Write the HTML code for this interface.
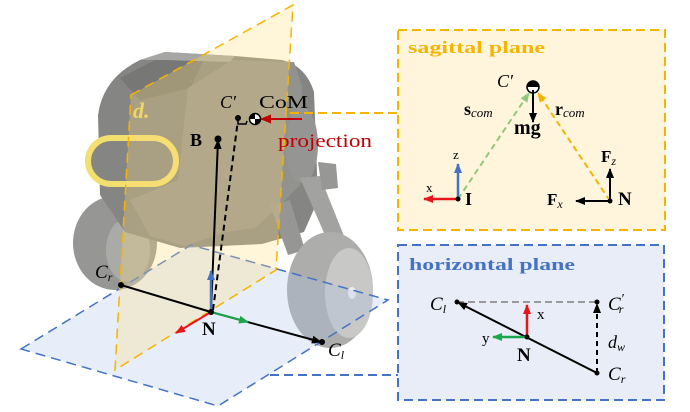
<!DOCTYPE html>
<html><head><meta charset="utf-8"><style>
html,body{margin:0;padding:0;background:#fff;}
svg{display:block;}
text{font-family:"Liberation Serif",serif;}
</style></head><body>
<svg width="690" height="412" viewBox="0 0 690 412" xmlns="http://www.w3.org/2000/svg">
<defs>
<marker id="mk" markerWidth="10" markerHeight="8" refX="9" refY="4" orient="auto" markerUnits="userSpaceOnUse"><path d="M0,0 L10,4 L0,8 z" fill="#000"/></marker>
<marker id="mr" markerWidth="10" markerHeight="8" refX="9" refY="4" orient="auto" markerUnits="userSpaceOnUse"><path d="M0,0 L10,4 L0,8 z" fill="#e8141c"/></marker>
<marker id="mdr" markerWidth="11" markerHeight="9" refX="10" refY="4.5" orient="auto" markerUnits="userSpaceOnUse"><path d="M0,0 L11,4.5 L0,9 z" fill="#c00000"/></marker>
<marker id="mg" markerWidth="10" markerHeight="8" refX="9" refY="4" orient="auto" markerUnits="userSpaceOnUse"><path d="M0,0 L10,4 L0,8 z" fill="#1aa64a"/></marker>
<marker id="mb" markerWidth="10" markerHeight="8" refX="9" refY="4" orient="auto" markerUnits="userSpaceOnUse"><path d="M0,0 L10,4 L0,8 z" fill="#4472c4"/></marker>
<marker id="mlg" markerWidth="10" markerHeight="8" refX="9" refY="4" orient="auto" markerUnits="userSpaceOnUse"><path d="M0,0 L10,4 L0,8 z" fill="#8fc97a"/></marker>
<marker id="mo" markerWidth="10" markerHeight="8" refX="9" refY="4" orient="auto" markerUnits="userSpaceOnUse"><path d="M0,0 L10,4 L0,8 z" fill="#f5b400"/></marker>
</defs>

<!-- Robot approximation -->
<g>
  <!-- left wheel -->
  <ellipse cx="115" cy="243" rx="42" ry="47" fill="#969694"/>
  <ellipse cx="128" cy="250" rx="22" ry="32" fill="#aaaaa7"/>
  <!-- cage -->
  <path d="M98,115 Q103,78 140,60 L165,52 L235,56 L282,60 Q306,66 314,92 L318,200 L304,232 L262,244 L180,248 L125,232 L100,195 Z" fill="#858583"/>
  <path d="M120,78 L165,55 L205,58 L190,88 L140,100 Z" fill="#777775"/>
  <path d="M140,60 L165,52 L235,56 L230,62 L165,60 Z" fill="#a6a6a4"/>
  <!-- side plate -->
  <path d="M188,88 L232,60 L294,62 L302,86 L300,185 L280,205 L255,228 L225,232 L185,246 L150,236 L130,200 L178,180 Z" fill="#92928e"/>
  <!-- motor disk -->
  <ellipse cx="302" cy="145" rx="16" ry="38" fill="#959593"/>
  <!-- leg -->
  <path d="M300,178 L320,176 L344,236 L328,242 Z" fill="#a2a2a0"/>
  <path d="M318,162 L336,164 L338,188 L322,190 Z" fill="#979795"/>
  <path d="M270,205 L290,200 L305,250 L288,255 Z" fill="#969694"/>
  <!-- right wheel -->
  <ellipse cx="330" cy="290" rx="43" ry="58" fill="#adadab"/>
  <ellipse cx="349" cy="293" rx="24" ry="45" fill="#c8c8c6"/>
  <ellipse cx="352" cy="293" rx="4" ry="6" fill="#eeeeee"/>
  <!-- yellow ring -->
  <rect x="88" y="138" width="88" height="46" rx="23" ry="23" fill="#858583" stroke="#f2df6e" stroke-width="6"/>
  <!-- logo -->
  <text x="133" y="118" font-size="22" font-weight="bold" fill="#e9d35a" font-style="italic">d.</text>
</g>

<!-- horizontal plane -->
<polygon points="21,349 191,245 388,300 218,406" fill="rgba(170,195,235,0.28)" stroke="#4472c4" stroke-width="1.5" stroke-dasharray="10,6"/>
<!-- sagittal plane -->
<polygon points="131,95 293,5 276,270 115,370" fill="rgba(255,222,130,0.3)" stroke="#f5b400" stroke-width="1.5" stroke-dasharray="10,6"/>

<!-- connectors -->
<line x1="290" y1="113" x2="398" y2="113" stroke="#f5b400" stroke-width="2" stroke-dasharray="9,5"/>
<line x1="270" y1="375" x2="398" y2="375" stroke="#4472c4" stroke-width="2" stroke-dasharray="9,5"/>

<!-- left diagram vectors -->
<line x1="121" y1="285" x2="211" y2="312" stroke="#000" stroke-width="2"/>
<line x1="211" y1="312" x2="321" y2="342" stroke="#000" stroke-width="2" marker-end="url(#mk)"/>
<line x1="211" y1="312" x2="218" y2="140" stroke="#000" stroke-width="2" marker-end="url(#mk)"/>
<line x1="213" y1="310" x2="238" y2="120" stroke="#000" stroke-width="2" stroke-dasharray="6,4"/>
<line x1="211" y1="312" x2="211" y2="271" stroke="#4472c4" stroke-width="2.5" marker-end="url(#mb)"/>
<line x1="211" y1="312" x2="176" y2="333" stroke="#e8141c" stroke-width="2" marker-end="url(#mr)"/>
<line x1="211" y1="312" x2="248" y2="322" stroke="#1aa64a" stroke-width="2" marker-end="url(#mg)"/>
<circle cx="121" cy="285" r="3" fill="#000"/>
<circle cx="211" cy="312" r="3" fill="#000"/>
<circle cx="322" cy="342" r="3" fill="#000"/>
<circle cx="218" cy="139" r="3.5" fill="#000"/>
<circle cx="238" cy="118" r="3" fill="#000"/>
<polyline points="238,118 238,124 246,124 247,121" fill="none" stroke="#000" stroke-width="1.5"/>
<!-- CoM symbol -->
<circle cx="255" cy="119" r="5.5" fill="#fff" stroke="#000" stroke-width="1.5"/>
<path d="M255,119 L255,113.5 A5.5,5.5 0 0 0 249.5,119 Z" fill="#000"/>
<path d="M255,119 L255,124.5 A5.5,5.5 0 0 0 260.5,119 Z" fill="#000"/>
<line x1="302" y1="119" x2="261" y2="119" stroke="#c00000" stroke-width="2" marker-end="url(#mdr)"/>

<text x="220" y="108" font-size="18" font-style="italic">C′</text>
<text x="259" y="108" font-size="18" textLength="49" lengthAdjust="spacingAndGlyphs">CoM</text>
<text x="278" y="147" font-size="19" fill="#c00000" textLength="94" lengthAdjust="spacingAndGlyphs">projection</text>
<text x="190" y="146" font-size="18" font-weight="bold">B</text>
<text x="95" y="278" font-size="19" font-style="italic">C<tspan font-size="12" dy="3">r</tspan></text>
<text x="202" y="335" font-size="19" font-weight="bold">N</text>
<text x="328" y="356" font-size="19" font-style="italic">C<tspan font-size="12" dy="3">l</tspan></text>

<!-- sagittal box -->
<rect x="398" y="30" width="267" height="200" fill="#fff5dd" stroke="#f5b400" stroke-width="2" stroke-dasharray="9,5"/>
<text x="408" y="53" font-size="17" font-weight="bold" fill="#f5b400" textLength="137" lengthAdjust="spacingAndGlyphs">sagittal  plane</text>
<line x1="458" y1="199" x2="529" y2="93" stroke="#8fc97a" stroke-width="2" stroke-dasharray="6,4" marker-end="url(#mlg)"/>
<line x1="610" y1="201" x2="538" y2="93" stroke="#f5b400" stroke-width="2" stroke-dasharray="6,4" marker-end="url(#mo)"/>
<circle cx="533" cy="87" r="6" fill="#fff" stroke="#000" stroke-width="1.5"/>
<path d="M527,87 A6,6 0 0 1 539,87 Z" fill="#000"/>
<line x1="533" y1="90" x2="533" y2="122" stroke="#000" stroke-width="2" marker-end="url(#mk)"/>
<line x1="458" y1="199" x2="458" y2="164" stroke="#4472c4" stroke-width="2.5" marker-end="url(#mb)"/>
<line x1="458" y1="199" x2="424" y2="199" stroke="#e8141c" stroke-width="2.5" marker-end="url(#mr)"/>
<line x1="610" y1="201" x2="610" y2="169" stroke="#000" stroke-width="2" marker-end="url(#mk)"/>
<line x1="610" y1="201" x2="576" y2="201" stroke="#000" stroke-width="2" marker-end="url(#mk)"/>
<circle cx="458" cy="199" r="2.5" fill="#000"/>
<circle cx="610" cy="201" r="2.5" fill="#000"/>
<text x="497" y="87" font-size="18" font-style="italic">C′</text>
<text x="464" y="115" font-size="18" font-weight="bold">s<tspan font-size="13" font-weight="normal" font-style="italic" dy="2">com</tspan></text>
<text x="555" y="115" font-size="18" font-weight="bold">r<tspan font-size="13" font-weight="normal" font-style="italic" dy="2">com</tspan></text>
<text x="514" y="134" font-size="20" font-weight="bold">mg</text>
<text x="453" y="159" font-size="13">z</text>
<text x="426" y="192" font-size="13">x</text>
<text x="465" y="205" font-size="18" font-weight="bold">I</text>
<text x="601" y="162" font-size="17" font-weight="bold">F<tspan font-size="12" font-weight="normal" font-style="italic" dy="3">z</tspan></text>
<text x="547" y="205" font-size="17" font-weight="bold">F<tspan font-size="12" font-weight="normal" font-style="italic" dy="3">x</tspan></text>
<text x="618" y="205" font-size="19" font-weight="bold">N</text>

<!-- horizontal box -->
<rect x="398" y="245" width="266" height="155" fill="#e8edf7" stroke="#4472c4" stroke-width="2" stroke-dasharray="9,5"/>
<text x="409" y="270" font-size="17" font-weight="bold" fill="#4472c4" textLength="166" lengthAdjust="spacingAndGlyphs">horizontal  plane</text>
<line x1="457" y1="302" x2="597" y2="302" stroke="#999" stroke-width="2" stroke-dasharray="7,4"/>
<line x1="597" y1="373" x2="458" y2="302.5" stroke="#000" stroke-width="2" marker-end="url(#mk)"/>
<line x1="597" y1="373" x2="597" y2="304" stroke="#000" stroke-width="2" stroke-dasharray="5,4" marker-end="url(#mk)"/>
<line x1="527" y1="337" x2="527" y2="305" stroke="#e8141c" stroke-width="2.5" marker-end="url(#mr)"/>
<line x1="527" y1="337" x2="493" y2="337" stroke="#1aa64a" stroke-width="2.5" marker-end="url(#mg)"/>
<circle cx="457" cy="302" r="2.5" fill="#000"/>
<circle cx="597" cy="302" r="2.5" fill="#000"/>
<circle cx="597" cy="373" r="2.5" fill="#000"/>
<circle cx="527" cy="337" r="2.5" fill="#000"/>
<text x="430" y="310" font-size="19" font-style="italic">C<tspan font-size="12" dy="3">l</tspan></text>
<text x="608" y="310" font-size="19" font-style="italic">C<tspan font-size="14" dy="-7">′</tspan><tspan font-size="12" dx="-5" dy="10">r</tspan></text>
<text x="537" y="319" font-size="15">x</text>
<text x="482" y="343" font-size="15">y</text>
<text x="517" y="361" font-size="19" font-weight="bold">N</text>
<text x="608" y="348" font-size="18" font-style="italic">d<tspan font-size="12" dy="3">w</tspan></text>
<text x="608" y="380" font-size="19" font-style="italic">C<tspan font-size="12" dy="3">r</tspan></text>
</svg>
</body></html>
